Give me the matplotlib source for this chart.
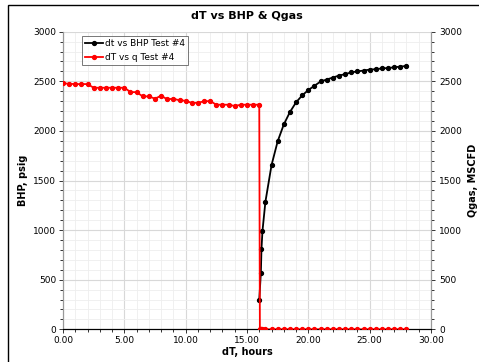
import matplotlib
matplotlib.use("Agg")
import matplotlib.pyplot as plt
from matplotlib.ticker import MultipleLocator, FormatStrFormatter
from matplotlib.patches import Rectangle

# BHP build-up data (hours, psig)
t_bhp = [16.0, 16.13, 16.18, 16.26, 16.5, 17.0, 17.5, 18.0, 18.5, 19.0, 19.5, 20.0,
         20.5, 21.0, 21.5, 22.0, 22.5, 23.0, 23.5, 24.0, 24.5, 25.0, 25.5, 26.0,
         26.5, 27.0, 27.5, 28.0]
bhp = [300, 570, 810, 990, 1285, 1655, 1895, 2065, 2190, 2288, 2358, 2412,
       2455, 2498, 2518, 2538, 2558, 2572, 2590, 2600, 2608, 2618, 2622, 2630,
       2634, 2641, 2648, 2655]

# Gas rate data (hours, MSCFD)
t_q = [0.0, 0.5, 1.0, 1.5, 2.0, 2.5, 3.0, 3.5, 4.0, 4.5, 5.0, 5.5, 6.0, 6.5, 7.0,
       7.5, 8.0, 8.5, 9.0, 9.5, 10.0, 10.5, 11.0, 11.5, 12.0, 12.5, 13.0, 13.5,
       14.0, 14.5, 15.0, 15.5, 16.0,
       16.05, 16.13, 16.18, 16.26, 16.5, 17.0, 17.5, 18.0, 18.5, 19.0, 19.5, 20.0,
       20.5, 21.0, 21.5, 22.0, 22.5, 23.0, 23.5, 24.0, 24.5, 25.0, 25.5, 26.0,
       26.5, 27.0, 27.5, 28.0]
q = [2480, 2475, 2472, 2472, 2472, 2435, 2435, 2435, 2435, 2435, 2435, 2392, 2390,
     2348, 2348, 2325, 2355, 2318, 2325, 2308, 2304, 2282, 2284, 2298, 2301, 2264,
     2264, 2264, 2251, 2264, 2264, 2264, 2264,
     0, 0, 0, 0, 0, 0, 0, 0, 0, 0, 0, 0, 0, 0, 0, 0, 0, 0, 0, 0, 0, 0, 0, 0, 0,
     0, 0, 0]

title = "dT vs BHP & Qgas"
xlabel = "dT, hours"
ylabel_left = "BHP, psig"
ylabel_right = "Qgas, MSCFD"
label_bhp = "dt vs BHP Test #4"
label_q = "dT vs q Test #4"

fig = plt.figure(figsize=(4.79, 3.62), dpi=100)
ax = fig.add_axes([63/479, 1-329.3/362, (431-63)/479, (329.3-31.7)/362])
ax2 = ax.twinx()

fs = 6.5
ax.set_xlim(0, 30)
ax.set_ylim(0, 3000)
ax2.set_ylim(0, 3000)

ax.xaxis.set_major_locator(MultipleLocator(5))
ax.xaxis.set_minor_locator(MultipleLocator(1))
ax.xaxis.set_major_formatter(FormatStrFormatter("%.2f"))
for a in (ax, ax2):
    a.yaxis.set_major_locator(MultipleLocator(500))
    a.yaxis.set_minor_locator(MultipleLocator(100))

ax.grid(True, which="major", color="#d8d8d8", lw=0.8)
ax.grid(True, which="minor", color="#eeeeee", lw=0.6)
ax.set_axisbelow(True)

l1, = ax.plot(t_bhp, bhp, color="black", lw=1.3, marker="o", ms=2.8, label=label_bhp, zorder=3)
l2, = ax2.plot(t_q, q, color="#ff0000", lw=1.3, marker="o", ms=2.8, label=label_q, zorder=3)

for a in (ax, ax2):
    a.spines["top"].set_visible(False)
    a.spines["left"].set_color("#999999")
    a.spines["right"].set_color("#999999")
    a.spines["bottom"].set_color("black")
ax.tick_params(axis="both", which="both", labelsize=fs, length=3, width=0.7, color="#333333", pad=2)
ax.tick_params(axis="both", which="minor", length=2)
ax2.tick_params(axis="y", which="both", labelsize=fs, length=3, width=0.7, color="#333333", pad=3)
ax2.tick_params(axis="y", which="minor", length=2)

ax.set_title(title, fontsize=8, fontweight="bold", pad=9)
ax.set_xlabel(xlabel, fontsize=7, fontweight="bold", labelpad=1)
ax.set_ylabel(ylabel_left, fontsize=7, fontweight="bold", labelpad=4)
ax2.set_ylabel(ylabel_right, fontsize=7, fontweight="bold", labelpad=4)

leg = ax2.legend(handles=[l1, l2], loc="upper left", bbox_to_anchor=((82-63)/368, (329.3-36)/297.6),
                 fontsize=6.5, frameon=True, fancybox=False, edgecolor="#555555",
                 borderpad=0.35, handlelength=2.0, handletextpad=0.2, labelspacing=0.5,
                 borderaxespad=0)
leg.get_frame().set_linewidth(0.7)

fig.patches.append(Rectangle((8/479, -0.1), 1.2, 1.1 - 5/362, transform=fig.transFigure,
                             fill=False, edgecolor="black", lw=1.0))

fig.savefig("out.png", dpi=100)
